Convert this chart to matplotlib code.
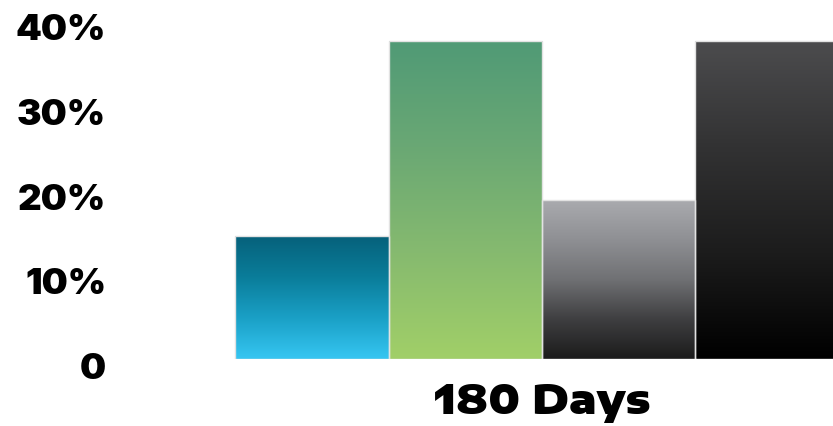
import numpy as np
import matplotlib
matplotlib.use("Agg")
import matplotlib.pyplot as plt
from matplotlib.colors import LinearSegmentedColormap
from matplotlib.transforms import ScaledTranslation

# ── Data ─────────────────────────────────────────────
categories = ["180 Days"]
series_values = [14.5, 37.5, 18.8, 37.5]          # percent, one bar per series
ytick_values = [0, 10, 20, 30, 40]
ytick_labels = ["0", "10%", "20%", "30%", "40%"]

# gradient stops (bottom -> top) for each series
gradients = [
    ["#36c6f2", "#1aa0c6", "#0a7d9a", "#06617b"],
    ["#a1cf68", "#86ba6f", "#6aa874", "#509a76"],
    ["#1b1b1b", "#3f3f41", "#707174", "#8f9094", "#aaabaf"],
    ["#000000", "#1c1c1c", "#323233", "#4c4c4e"],
]

FONT = ["Inter", "DejaVu Sans"]
XFONT = ["Encode Sans Expanded", "Inter", "DejaVu Sans"]

fig = plt.figure(figsize=(8.33, 4.27), dpi=100)
ax = fig.add_axes([220 / 833, 67 / 427, 613 / 833, 360 / 427])

n = len(series_values)
width = 1.0
offsets = (np.arange(n) - (n - 1) / 2) * width
x_center = np.arange(len(categories))

for i, (val, stops) in enumerate(zip(series_values, gradients)):
    x = x_center[0] + offsets[i]
    bar = ax.bar(x, val, width=width, facecolor="none",
                 edgecolor="#e2e2e2", linewidth=1.0, zorder=3)[0]
    cmap = LinearSegmentedColormap.from_list(f"g{i}", stops)
    grad = np.linspace(0, 1, 256).reshape(-1, 1)
    im = ax.imshow(grad, cmap=cmap, origin="lower", aspect="auto",
                   extent=(x - width / 2, x + width / 2, 0, val), zorder=2)
    im.set_clip_path(bar)

ax.set_xlim(-2.098, 1.896)
ax.set_ylim(0, 42.5)

ax.set_yticks(ytick_values)
ax.set_yticklabels(ytick_labels)
ax.tick_params(axis="y", length=0, pad=82)
for lab in ax.get_yticklabels():
    lab.set_fontfamily(FONT)
    lab.set_fontweight(900)
    lab.set_fontsize(26.5)
    lab.set_transform(lab.get_transform() + ScaledTranslation(0, -6 / 100, fig.dpi_scale_trans))

ax.set_xticks(x_center)
ax.set_xticklabels(categories, fontfamily=XFONT, fontweight=900, fontsize=29.5)
ax.tick_params(axis="x", length=0, pad=15)

for s in ax.spines.values():
    s.set_visible(False)

fig.savefig("out.png", dpi=100)
